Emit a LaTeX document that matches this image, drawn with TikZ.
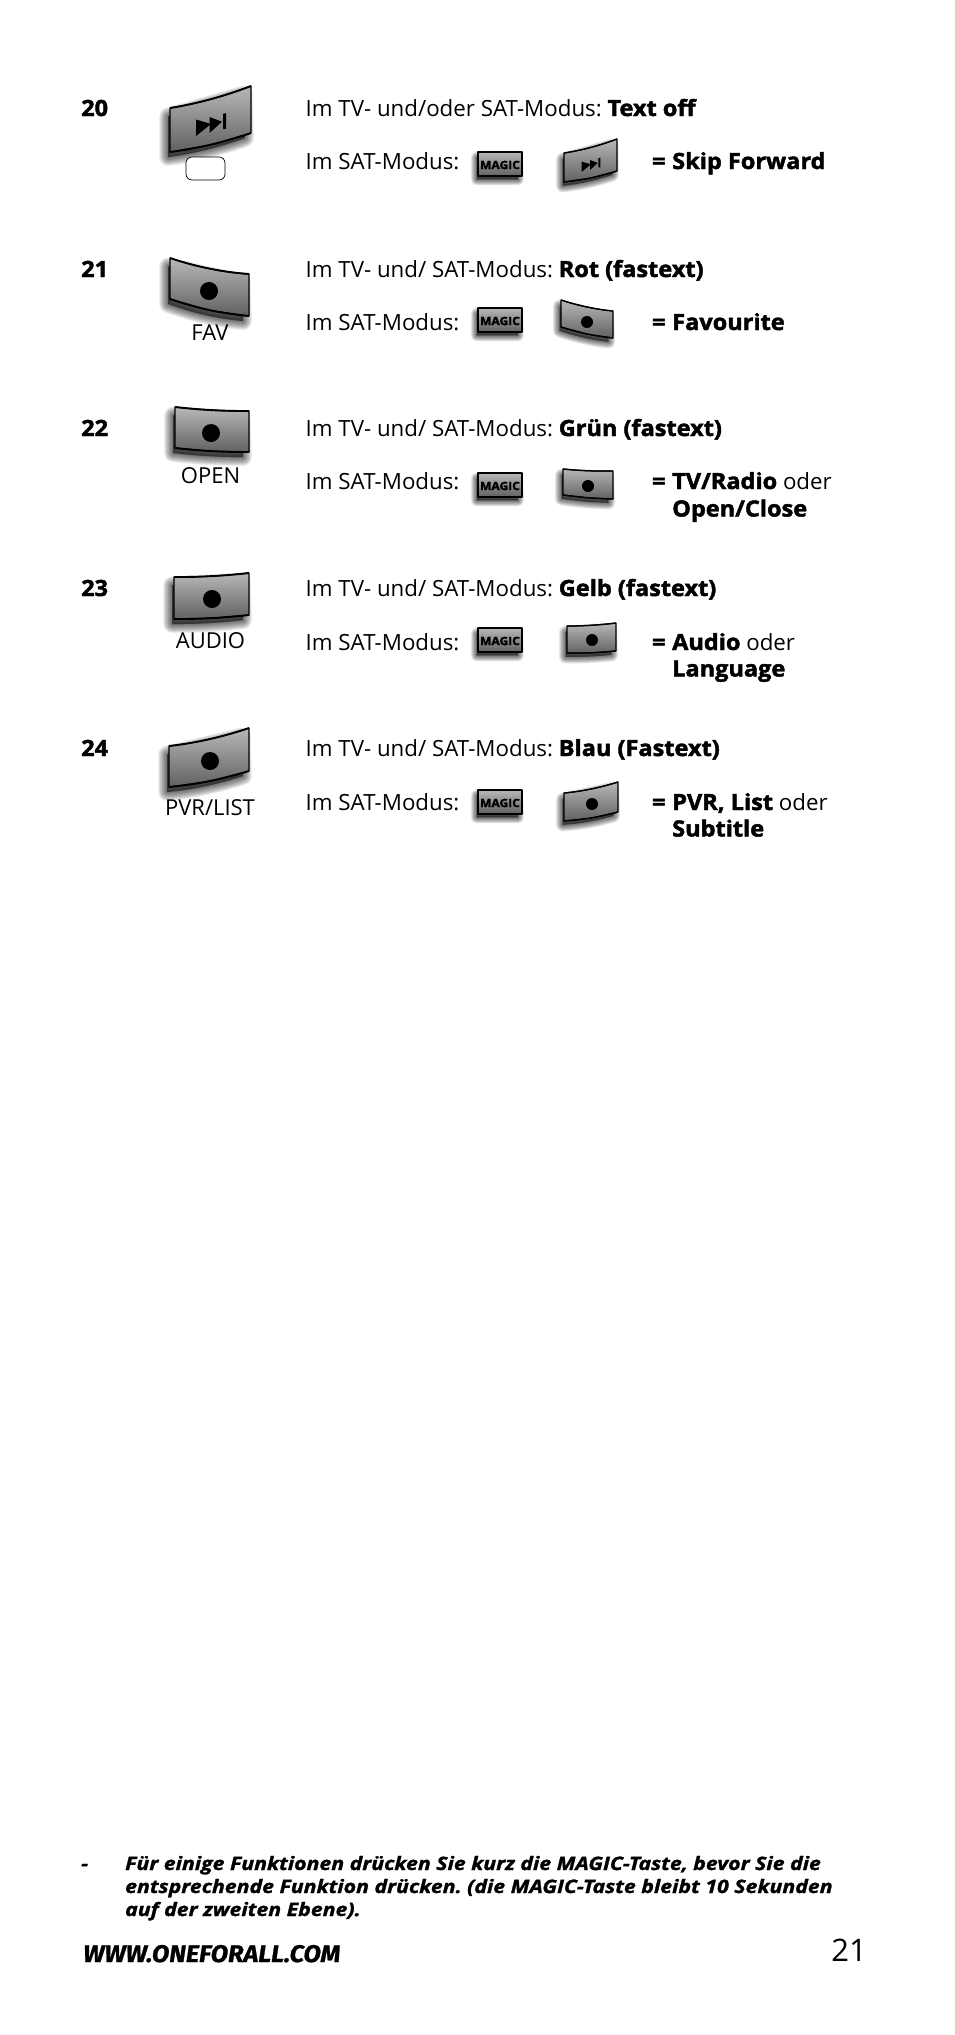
\documentclass[tikz,border=0pt]{standalone}
\usepackage{fontspec}
\setmainfont{Open Sans}[BoldFeatures={FakeBold=2,FakeStretch=1.055}]
\newfontfamily\wwwfont{Fira Sans}[BoldItalicFeatures={FakeBold=1,FakeStretch=1.06}]
\newfontfamily\notefont{Open Sans}[BoldItalicFeatures={FakeBold=1.5,FakeStretch=1.15}]
\usetikzlibrary{calc}
\definecolor{btntop}{gray}{0.72}
\definecolor{btnmid}{gray}{0.64}
\definecolor{btnbot}{gray}{0.38}
\tikzset{
  body/.style={anchor=base west,inner sep=0pt,font=\frenchspacing\fontsize{22.3}{26}\selectfont,text=black},
  lab/.style={anchor=base,inner sep=0pt,font=\fontsize{22}{26}\selectfont,text=black},
  num/.style={anchor=base west,inner sep=0pt,font=\fontsize{22.3}{26}\selectfont\bfseries,text=black},
  note/.style={anchor=base west,inner sep=0pt,font=\frenchspacing\notefont\fontsize{18.5}{23}\selectfont\bfseries\itshape,text=black},
  magictext/.style={inner sep=0pt,font=\fontsize{11.4}{12}\selectfont\bfseries,text=black},
  keydot/.style={fill=black},
}
% #1 TL, #2 TR, #3 BR, #4 BL, #5 sag, #6 shadow spread, #7 edge width
\newcommand{\keybtn}[7]{%
  \coordinate (kTL) at (#1); \coordinate (kTR) at (#2);
  \coordinate (kBR) at (#3); \coordinate (kBL) at (#4);
  \def\keypath{(kTL) .. controls ($(kTL)!.33!(kTR)+(0,#5)$) and ($(kTL)!.67!(kTR)+(0,#5)$) .. (kTR)
     -- (kBR) .. controls ($(kBL)!.33!(kBR)+(0,#5)$) and ($(kBL)!.67!(kBR)+(0,#5)$) .. (kBL) -- cycle}%
  \coordinate (sTL) at ($(kTL)+(-.15*#6,.7*#6)$);
  \coordinate (sTR) at ($(kTR)+(-.6*#6,.7*#6)$);
  \coordinate (sBR) at ($(kBR)+(-.5*#6,.42*#6)$);
  \coordinate (sBL) at ($(kBL)+(-.15*#6,.42*#6)$);
  \foreach \i in {0,...,11}{
    \path[fill=black,draw=black,opacity=.06,line join=round,line width={#6*(1-\i/12)*1.5pt}]
      (sTL) -- (sTR) -- (sBR) .. controls ($(sBL)!.67!(sBR)+(0,#5)$) and ($(sBL)!.33!(sBR)+(0,#5)$) .. (sBL) -- cycle;
  }
  \shade[top color=btntop,middle color=btnmid,bottom color=btnbot] \keypath;
  \draw[black,line width=1.2pt,line join=round] \keypath;
  \draw[black,line width=#7] (kBL) .. controls ($(kBL)!.33!(kBR)+(0,#5)$) and ($(kBL)!.67!(kBR)+(0,#5)$) .. (kBR);
  \draw[black,line width=#7] (kTL) .. controls ($(kTL)!.33!(kTR)+(0,#5)$) and ($(kTL)!.67!(kTR)+(0,#5)$) .. (kTR);
}
\newcommand{\skipicon}[3]{%
  \begin{scope}[shift={(#1,#2)},scale=#3]
    \fill[black] (-15,-5.5) -- (-15,11) -- (0,-1) -- cycle;
    \fill[black] (-1.5,-8) -- (-1.5,8) -- (11,-3.3) -- cycle;
    \fill[black] (12,-11) -- (15,-12) -- (15,4) -- (12,4) -- cycle;
  \end{scope}
}
\newcommand{\magicbtn}[3]{%
  \keybtn{478,#2}{522,#2}{522,#3}{478,#3}{0}{8}{1.2pt}
  \node[magictext] (#1) at (500,{(#2+#3)/2+1}) {MAGIC};
}
\begin{document}
\begin{tikzpicture}[x=1pt,y=-1pt]
\useasboundingbox (0,0) rectangle (954,2035);
\fill[white] (0,0) rectangle (954,2035);

% large keys
\keybtn{170,108}{251,86}{251,133}{170,152}{3}{12}{1.9pt}
\skipicon{211}{125}{1}
\keybtn{170,258}{249,274}{249,316}{170,299}{3.5}{12}{1.9pt}
\fill[keydot] (209,291) circle[radius=9];
\keybtn{175,407}{249,411}{249,452}{175,448}{1.5}{12}{1.9pt}
\fill[keydot] (211,433) circle[radius=9];
\keybtn{174,577}{249,573}{249,615}{174,619}{1.5}{12}{1.9pt}
\fill[keydot] (212,599) circle[radius=9];
\keybtn{169,746}{249,728}{249,771}{169,787}{3}{12}{1.9pt}
\fill[keydot] (210,761) circle[radius=9];

% small keys
\keybtn{564,153}{617,139}{617,171}{564,182}{2}{9}{1.3pt}
\skipicon{591}{165}{0.62}
\keybtn{561,300}{613,311}{613,338}{561,327}{2}{9}{1.3pt}
\fill[keydot] (587,322) circle[radius=6];
\keybtn{563,469}{613,471}{613,499}{563,495}{1}{9}{1.3pt}
\fill[keydot] (588,486) circle[radius=6];
\keybtn{567,626}{616,623}{616,651}{567,653}{1}{9}{1.3pt}
\fill[keydot] (592,640) circle[radius=6];
\keybtn{564,793}{618,782}{618,812}{564,821}{2}{9}{1.3pt}
\fill[keydot] (592,804) circle[radius=6];

% MAGIC keys
\magicbtn{m20}{152}{176}
\magicbtn{m21}{308}{332}
\magicbtn{m22}{473}{497}
\magicbtn{m23}{628}{652}
\magicbtn{m24}{790}{814}

% blank key
\node[draw=black,line width=0.7pt,fill=white,rounded corners=6pt,minimum width=39pt,minimum height=23pt,inner sep=0pt] (blank) at (205.5,168.5) {};

% numbers
\node[num] (n20) at (81,116) {20};
\node[num] (n21) at (81,277) {21};
\node[num] (n22) at (81,436) {22};
\node[num] (n23) at (81,596) {23};
\node[num] (n24) at (81,756) {24};

% key labels
\node[lab] (lfav) at (210,340) {FAV};
\node[lab] (lopen) at (210.5,483.5) {OPEN};
\node[lab] (laudio) at (210.5,648.5) {AUDIO};
\node[lab] (lpvr) at (210,815) {PVR/LIST};

% first lines
\node[body] (a20) at (305.5,116) {Im TV- und/oder SAT-Modus: \textbf{Text off}};
\node[body] (a21) at (305.5,277) {Im TV- und/ SAT-Modus: \textbf{Rot (fastext)}};
\node[body] (a22) at (305.5,436) {Im TV- und/ SAT-Modus: \textbf{Grün (fastext)}};
\node[body] (a23) at (305.5,596) {Im TV- und/ SAT-Modus: \textbf{Gelb (fastext)}};
\node[body] (a24) at (305.5,756) {Im TV- und/ SAT-Modus: \textbf{Blau (Fastext)}};

% second lines
\node[body] (b20) at (305.5,169) {Im SAT-Modus:};
\node[body] (b21) at (305.5,330) {Im SAT-Modus:};
\node[body] (b22) at (305.5,489) {Im SAT-Modus:};
\node[body] (b23) at (305.5,650) {Im SAT-Modus:};
\node[body] (b24) at (305.5,810) {Im SAT-Modus:};

% results
\node[body] (e20) at (652,169) {\textbf{=}};
\node[body] (r20) at (672,169) {\textbf{Skip Forward}};
\node[body] (e21) at (652,330) {\textbf{=}};
\node[body] (r21) at (672,330) {\textbf{Favourite}};
\node[body] (e22) at (652,489) {\textbf{=}};
\node[body] (r22) at (672,489) {\textbf{TV/Radio} oder};
\node[body] (s22) at (672,516.5) {\textbf{Open/Close}};
\node[body] (e23) at (652,650) {\textbf{=}};
\node[body] (r23) at (672,650) {\textbf{Audio} oder};
\node[body] (s23) at (672,676.5) {\textbf{Language}};
\node[body] (e24) at (652,810) {\textbf{=}};
\node[body] (r24) at (672,810) {\textbf{PVR, List} oder};
\node[body] (s24) at (672,836.5) {\textbf{Subtitle}};

% footnote
\node[note] (dash) at (81,1870) {-};
\node[note] (f1) at (125,1870) {Für einige Funktionen drücken Sie kurz die MAGIC-Taste, bevor Sie die};
\node[note] (f2) at (125,1893) {entsprechende Funktion drücken. (die MAGIC-Taste bleibt 10 Sekunden};
\node[note] (f3) at (125,1916) {auf der zweiten Ebene).};

% footer
\node[anchor=base west,inner sep=0pt,font=\wwwfont\fontsize{24}{28}\selectfont\bfseries\itshape] (www) at (83,1962) {WWW.ONEFORALL.COM};
\node[anchor=base east,inner sep=0pt,font=\fontsize{31}{34}\selectfont] (page) at (867,1961) {21};
\end{tikzpicture}
\end{document}
